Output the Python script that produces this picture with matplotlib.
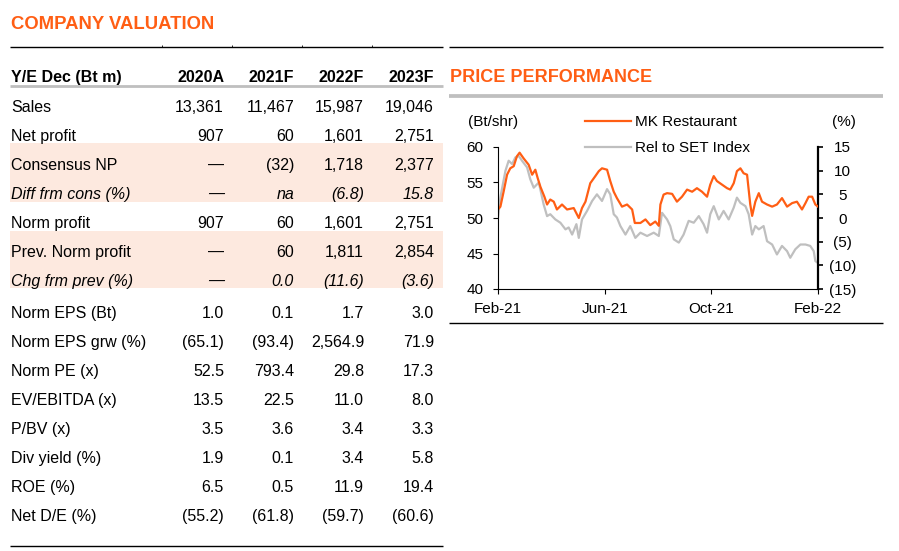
import matplotlib
matplotlib.use("Agg")
import matplotlib.pyplot as plt
from matplotlib.lines import Line2D
from matplotlib.patches import Rectangle

plt.rcParams['font.family'] = ['Liberation Sans', 'DejaVu Sans']

# --- data: company valuation table ---
years = ['2020A', '2021F', '2022F', '2023F']
row_labels = ['Sales', 'Net profit', 'Consensus NP', 'Diff frm cons (%)', 'Norm profit',
              'Prev. Norm profit', 'Chg frm prev (%)', 'Norm EPS (Bt)', 'Norm EPS grw (%)',
              'Norm PE (x)', 'EV/EBITDA (x)', 'P/BV (x)', 'Div yield (%)', 'ROE (%)', 'Net D/E (%)']
row_values = [
    ['13,361', '11,467', '15,987', '19,046'],
    ['907', '60', '1,601', '2,751'],
    ['\u2014', '(32)', '1,718', '2,377'],
    ['\u2014', 'na', '(6.8)', '15.8'],
    ['907', '60', '1,601', '2,751'],
    ['\u2014', '60', '1,811', '2,854'],
    ['\u2014', '0.0', '(11.6)', '(3.6)'],
    ['1.0', '0.1', '1.7', '3.0'],
    ['(65.1)', '(93.4)', '2,564.9', '71.9'],
    ['52.5', '793.4', '29.8', '17.3'],
    ['13.5', '22.5', '11.0', '8.0'],
    ['3.5', '3.6', '3.4', '3.3'],
    ['1.9', '0.1', '3.4', '5.8'],
    ['6.5', '0.5', '11.9', '19.4'],
    ['(55.2)', '(61.8)', '(59.7)', '(60.6)'],
]
italic_rows = ['Diff frm cons (%)', 'Chg frm prev (%)']

# --- data: price performance (months since Feb-21) ---
mk_month = [0.00, 0.09, 0.21, 0.34, 0.46, 0.59, 0.71, 0.81, 0.96, 1.15,
            1.28, 1.40, 1.49, 1.59, 1.74, 1.84, 1.96, 2.09, 2.21, 2.40,
            2.59, 2.84, 3.03, 3.15, 3.28, 3.46, 3.65, 3.78, 3.90, 4.09,
            4.21, 4.34, 4.46, 4.65, 4.84, 5.03, 5.13, 5.34, 5.53, 5.71,
            5.90, 6.03, 6.09, 6.21, 6.34, 6.53, 6.71, 6.90, 7.09, 7.28,
            7.46, 7.65, 7.84, 7.96, 8.09, 8.21, 8.40, 8.59, 8.71, 8.84,
            8.96, 9.09, 9.21, 9.34, 9.46, 9.53, 9.65, 9.78, 9.90, 10.09,
            10.28, 10.46, 10.65, 10.84, 11.03, 11.21, 11.40, 11.53, 11.65, 11.78,
            11.90, 12.00]
mk_price = [51.2, 51.6, 53.7, 56.1, 57.0, 57.3, 58.7, 59.2, 58.4, 57.5,
            56.1, 56.8, 55.6, 54.4, 53.0, 51.9, 52.6, 52.3, 51.2, 51.9,
            51.2, 51.4, 50.0, 51.4, 52.3, 54.9, 55.9, 56.6, 57.0, 56.8,
            55.2, 53.7, 52.8, 51.6, 51.9, 51.2, 49.3, 49.3, 49.8, 49.0,
            49.5, 48.9, 51.9, 53.3, 53.5, 53.4, 52.3, 53.0, 54.0, 53.7,
            54.2, 53.7, 53.0, 54.7, 55.9, 55.2, 54.7, 54.2, 54.0, 54.9,
            56.6, 57.0, 56.3, 56.1, 51.9, 50.3, 52.3, 53.5, 52.3, 51.9,
            51.6, 51.9, 52.8, 51.6, 52.1, 52.3, 51.2, 52.1, 53.0, 53.0,
            51.9, 51.6]
rel_month = [0.00, 0.09, 0.28, 0.40, 0.53, 0.65, 0.78, 0.90, 1.09, 1.21,
             1.34, 1.53, 1.71, 1.84, 1.96, 2.15, 2.34, 2.53, 2.65, 2.78,
             2.94, 3.03, 3.15, 3.34, 3.53, 3.71, 3.90, 4.09, 4.21, 4.34,
             4.46, 4.59, 4.78, 4.96, 5.15, 5.34, 5.59, 5.84, 6.03, 6.15,
             6.34, 6.46, 6.59, 6.78, 6.96, 7.15, 7.34, 7.53, 7.71, 7.84,
             7.96, 8.09, 8.28, 8.46, 8.65, 8.84, 8.96, 9.09, 9.28, 9.40,
             9.53, 9.65, 9.78, 9.96, 10.09, 10.28, 10.46, 10.65, 10.84, 10.96,
             11.15, 11.34, 11.53, 11.71, 11.84, 11.90, 12.00]
rel_pct = [0.0, 4.4, 10.0, 12.1, 11.4, 12.8, 13.1, 12.1, 10.7, 8.2,
           6.4, 7.5, 2.9, 0.4, 0.8, -0.3, -1.0, -2.4, -2.0, -3.5,
           -1.3, -4.2, -0.3, 1.5, 3.6, 5.0, 3.6, 6.1, 5.0, 0.8,
           0.1, -1.7, -3.5, -1.7, -4.2, -3.1, -3.8, -3.1, -3.8, 1.1,
           -0.3, -1.7, -4.5, -5.2, -3.5, -0.6, -1.0, 0.4, -1.3, -3.1,
           0.8, 2.5, -0.3, 1.5, -0.3, 2.2, 4.3, 3.2, 2.5, 0.8,
           -3.5, -1.7, -2.4, -1.7, -4.9, -5.6, -7.7, -5.9, -7.0, -8.4,
           -6.6, -5.6, -5.6, -5.9, -7.0, -9.1, -9.5]
x_ticks = [0, 4, 8, 12]
x_labels = ['Feb-21', 'Jun-21', 'Oct-21', 'Feb-22']
left_ticks = [40, 45, 50, 55, 60]
right_ticks = [-15, -10, -5, 0, 5, 10, 15]

ORANGE = '#FF5E14'
GREY = '#BFBFBF'
PEACH = '#FDE9DF'
W, H = 899, 551
TFS = 11.5  # table font size

fig = plt.figure(figsize=(W / 100, H / 100), dpi=100)


def fx(x):
    return x / W


def fy(y):
    return 1 - y / H


def line(x0, x1, y0, y1, color='black', lw=1.0):
    fig.add_artist(Line2D([fx(x0), fx(x1)], [fy(y0), fy(y1)], transform=fig.transFigure,
                          color=color, lw=lw, solid_capstyle='butt'))


def band(x0, x1, y0, y1, color):
    fig.add_artist(Rectangle((fx(x0), fy(y1)), fx(x1) - fx(x0), fy(y0) - fy(y1),
                             transform=fig.transFigure, color=color, lw=0, zorder=0))


# --- left: valuation table ---
fig.text(fx(11), fy(29.3), 'COMPANY VALUATION', color=ORANGE, fontsize=13.3,
         fontweight='bold', va='baseline')
line(10, 443, 47.3, 47.3)
col_right = [224, 294, 364, 434]
for xr in col_right:
    line(xr - 62, xr - 62, 47.3, 45.3, lw=0.6)
fig.text(fx(11), fy(81.7), 'Y/E Dec (Bt m)', fontsize=TFS, fontweight='bold', va='baseline')
for yr, xr in zip(years, col_right):
    fig.text(fx(xr), fy(81.7), yr, fontsize=TFS, fontweight='bold', ha='right', va='baseline')
line(10, 443, 85.5, 85.5, color=GREY, lw=2.0)

band(10, 443, 142.7, 201.7, PEACH)
band(10, 443, 230.7, 288.3, PEACH)

for i, (lab, vals) in enumerate(zip(row_labels, row_values)):
    base = 111.7 + 29 * i + (3 if i >= 7 else 0)
    style = 'italic' if lab in italic_rows else 'normal'
    fig.text(fx(11), fy(base), lab, fontsize=TFS, style=style, va='baseline')
    for v, xr in zip(vals, col_right):
        fig.text(fx(xr), fy(base), v, fontsize=TFS, style=style, ha='right', va='baseline')

line(10, 443, 545.7, 545.7)

# --- right: price performance ---
line(449, 883, 47.3, 47.3)
fig.text(fx(450), fy(81.7), 'PRICE PERFORMANCE', color=ORANGE, fontsize=13,
         fontweight='bold', va='baseline')
line(449, 883, 96.3, 96.3, color=GREY, lw=2.7)
line(449, 883, 323, 323)

ax = fig.add_axes([fx(498), fy(289), fx(818) - fx(498), (289 - 147) / H])
ax2 = ax.twinx()
ax.set_zorder(ax2.get_zorder() + 1)
ax.patch.set_visible(False)

l1, = ax.plot(mk_month, mk_price, color=ORANGE, lw=1.6, label='MK Restaurant')
l2, = ax2.plot(rel_month, rel_pct, color=GREY, lw=1.6, label='Rel to SET Index')

ax.set_xlim(0, 12)
ax.set_ylim(40, 60)
ax2.set_ylim(-15, 15)
ax.set_xticks(x_ticks)
ax.set_xticklabels(x_labels)
ax.set_yticks(left_ticks)
ax2.set_yticks(right_ticks)
ax2.set_yticklabels([f'({abs(t)})' if t < 0 else f'{t}' for t in right_ticks])

for s in ['top', 'right']:
    ax.spines[s].set_visible(False)
for s in ['top', 'left', 'bottom']:
    ax2.spines[s].set_visible(False)
ax.spines['left'].set_linewidth(0.8)
ax.spines['bottom'].set_linewidth(0.8)
ax2.spines['right'].set_linewidth(1.6)

ax.tick_params(axis='y', direction='out', length=3.6, width=0.8, labelsize=11, pad=7)
ax.tick_params(axis='x', direction='out', length=3.6, width=0.8, labelsize=11, pad=6)
ax2.tick_params(axis='y', direction='out', length=3.6, width=1.2, labelsize=11, pad=14)
for t in ax2.get_yticklabels():
    t.set_horizontalalignment('center')

fig.text(fx(468), fy(122), '(Bt/shr)', fontsize=11, va='center')
fig.text(fx(832), fy(122), '(%)', fontsize=11, va='center')

ax.legend(handles=[l1, l2], loc='upper left', bbox_to_anchor=(fx(585), fy(115)),
          bbox_transform=fig.transFigure, frameon=False, fontsize=11,
          handlelength=3.0, handletextpad=0.25, labelspacing=0.8,
          borderpad=0, borderaxespad=0)

fig.savefig('out.png', dpi=100)
